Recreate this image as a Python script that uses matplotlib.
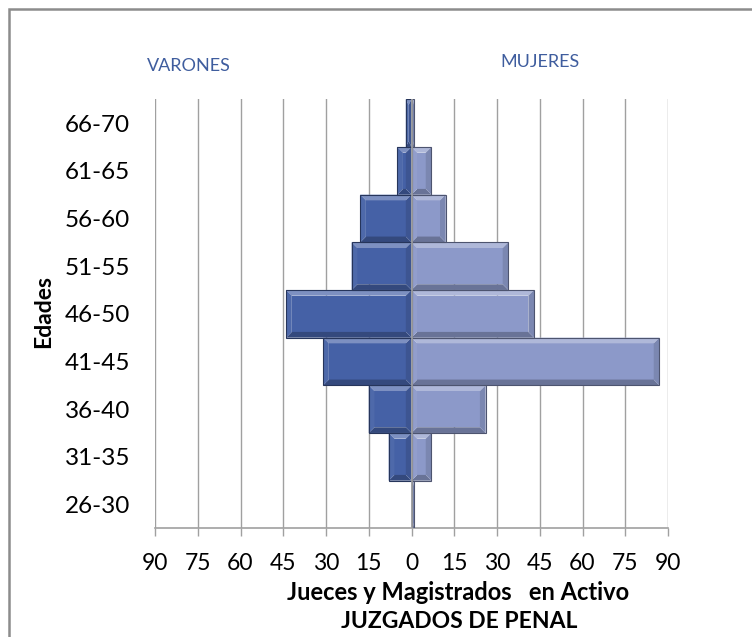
"""Population pyramid of active judges by age group (Juzgados de Penal)."""

import matplotlib
matplotlib.use("Agg")
import matplotlib.pyplot as plt
from matplotlib.patches import Polygon, Rectangle
from matplotlib.colors import to_rgb
import numpy as np

AGE_GROUPS = ["26-30", "31-35", "36-40", "41-45", "46-50",
              "51-55", "56-60", "61-65", "66-70"]
VARONES = [0, 8, 15, 31, 44, 21, 18, 5, 2]
MUJERES = [1, 7, 26, 87, 43, 34, 12, 7, 1]
X_TICKS = [-90, -75, -60, -45, -30, -15, 0, 15, 30, 45, 60, 75, 90]

MEN_COLOR = "#4561a6"
WOMEN_COLOR = "#8c99c9"
LABEL_BLUE = "#3f5d9e"
GRID_GRAY = "#a0a0a0"

plt.rcParams["font.family"] = ["Lato", "DejaVu Sans"]

W, H = 752, 637
fig = plt.figure(figsize=(W / 100, H / 100), dpi=100)
ax = fig.add_axes([155 / W, 1 - 528.3 / H, 513 / W, 429 / H])


def shade(color, f):
    c = np.array(to_rgb(color))
    if f >= 0:
        return tuple(c + (1 - c) * f)
    return tuple(c * (1 + f))


def bevel_bar(ax, y, x0, x1, color, h=1.0, bx=2.0, by=0.12):
    """Bar with an Excel-like angled bevel, drawn in data coordinates."""
    if x1 == x0:
        return
    lo, hi = min(x0, x1), max(x0, x1)
    y0, y1 = y - h / 2, y + h / 2
    bx = min(bx, (hi - lo) / 2)
    by = min(by, h / 2)
    outer = [(lo, y0), (hi, y0), (hi, y1), (lo, y1)]
    inner = [(lo + bx, y0 + by), (hi - bx, y0 + by),
             (hi - bx, y1 - by), (lo + bx, y1 - by)]
    ax.add_patch(Polygon(inner, closed=True, fc=color, ec="none", zorder=3))
    # top highlight, bottom shade, left, right
    ax.add_patch(Polygon([outer[3], outer[2], inner[2], inner[3]],
                         fc=shade(color, 0.3), ec="none", zorder=3))
    ax.add_patch(Polygon([outer[0], outer[1], inner[1], inner[0]],
                         fc=shade(color, -0.25), ec="none", zorder=3))
    ax.add_patch(Polygon([outer[0], outer[3], inner[3], inner[0]],
                         fc=shade(color, 0.05), ec="none", zorder=3))
    ax.add_patch(Polygon([outer[1], outer[2], inner[2], inner[1]],
                         fc=shade(color, -0.12), ec="none", zorder=3))
    ax.add_patch(Polygon(outer, closed=True, fc="none",
                         ec=shade(color, -0.45), lw=0.8, zorder=3))


y = np.arange(len(AGE_GROUPS))
for yi, m, f in zip(y, VARONES, MUJERES):
    bevel_bar(ax, yi, -m, 0, MEN_COLOR)
    bevel_bar(ax, yi, 0, f, WOMEN_COLOR)

ax.axvline(0, color=GRID_GRAY, lw=1.2, zorder=4)

ax.set_xlim(-90, 90)
ax.set_ylim(-0.5, len(AGE_GROUPS) - 0.5)
ax.set_xticks(X_TICKS)
ax.set_xticklabels([str(abs(t)) for t in X_TICKS], fontsize=16.5)
ax.set_yticks(y)
ax.set_yticklabels(AGE_GROUPS, fontsize=17.5)
ax.tick_params(axis="x", length=6, width=1, color=GRID_GRAY, pad=12)
ax.tick_params(axis="y", length=0, pad=18)
ax.xaxis.grid(True, color=GRID_GRAY, lw=1)
ax.set_axisbelow(True)
for side in ["top", "left", "right"]:
    ax.spines[side].set_visible(False)
ax.spines["bottom"].set_color(GRID_GRAY)
ax.spines["bottom"].set_linewidth(1.2)

fig.text(44 / W, 1 - 311 / H, "Edades", rotation=90, fontsize=16.5,
         fontweight="bold", ha="center", va="center")
fig.text(458 / W, 1 - 592 / H, "Jueces y Magistrados   en Activo",
         fontsize=17, fontweight="bold", ha="center", va="center")
fig.text(459 / W, 1 - 622 / H, "JUZGADOS DE PENAL", fontsize=16.5,
         fontweight="bold", ha="center", va="center")
fig.text(189 / W, 1 - 66 / H, "VARONES", fontsize=13, color=LABEL_BLUE,
         ha="center", va="center")
fig.text(540 / W, 1 - 62 / H, "MUJERES", fontsize=13, color=LABEL_BLUE,
         ha="center", va="center")

# chart frame, cut off at the right and bottom like the source
fig.add_artist(Rectangle((9 / W, -0.1), 1.2, 1 - 9 / H + 0.1,
                         transform=fig.transFigure, fill=False,
                         ec="#8c8c8c", lw=1.8))

fig.savefig("out.png", dpi=100)
